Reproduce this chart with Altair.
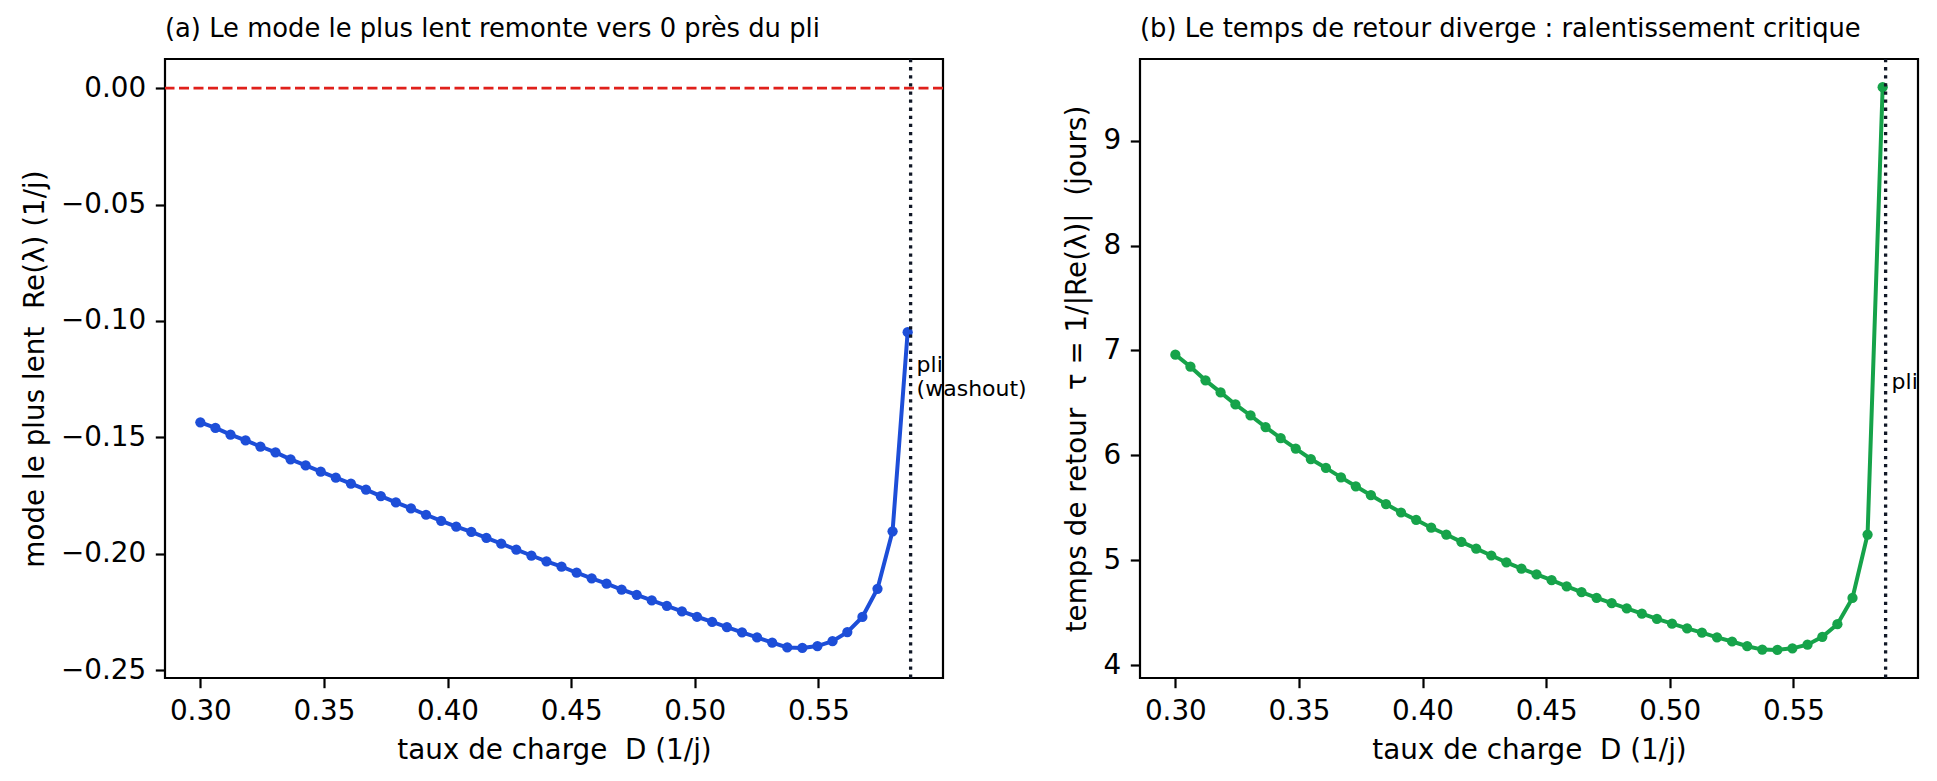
import altair as alt
import pandas as pd

# Taux de charge D (1/j), grille de continuation jusqu'au pli
D = [0.3000, 0.3061, 0.3122, 0.3183, 0.3243, 0.3304, 0.3365, 0.3426, 0.3487, 0.3548,
     0.3609, 0.3670, 0.3730, 0.3791, 0.3852, 0.3913, 0.3974, 0.4035, 0.4096, 0.4157,
     0.4217, 0.4278, 0.4339, 0.4400, 0.4461, 0.4522, 0.4583, 0.4643, 0.4704, 0.4765,
     0.4826, 0.4887, 0.4948, 0.5009, 0.5070, 0.5130, 0.5191, 0.5252, 0.5313, 0.5374,
     0.5435, 0.5496, 0.5557, 0.5617, 0.5678, 0.5739, 0.5800, 0.5861]

# Re(lambda) du mode le plus lent (1/j)
re_lambda = [-0.1435, -0.1459, -0.1488, -0.1513, -0.1539, -0.1564, -0.1594, -0.1620, -0.1647, -0.1673,
             -0.1698, -0.1724, -0.1752, -0.1779, -0.1805, -0.1832, -0.1858, -0.1883, -0.1906, -0.1931,
             -0.1956, -0.1982, -0.2007, -0.2032, -0.2055, -0.2081, -0.2105, -0.2128, -0.2153, -0.2176,
             -0.2200, -0.2223, -0.2247, -0.2270, -0.2292, -0.2315, -0.2337, -0.2359, -0.2381, -0.2402,
             -0.2404, -0.2396, -0.2375, -0.2336, -0.2271, -0.2150, -0.1903, -0.1048]

# temps de retour tau (jours)
tau = [6.960, 6.845, 6.715, 6.600, 6.485, 6.380, 6.270, 6.165, 6.065, 5.965,
       5.880, 5.790, 5.705, 5.620, 5.535, 5.455, 5.385, 5.310, 5.245, 5.175,
       5.110, 5.045, 4.980, 4.920, 4.865, 4.810, 4.750, 4.695, 4.640, 4.590,
       4.540, 4.490, 4.440, 4.395, 4.350, 4.310, 4.265, 4.225, 4.180, 4.148,
       4.145, 4.160, 4.195, 4.270, 4.390, 4.640, 5.245, 9.510]

D_PLI = 0.5873

x_ticks = [0.30, 0.35, 0.40, 0.45, 0.50, 0.55]
ya_ticks = [0.00, -0.05, -0.10, -0.15, -0.20, -0.25]
yb_ticks = [4, 5, 6, 7, 8, 9]

df = pd.DataFrame({"D": D, "re": re_lambda, "tau": tau})

BLUE = "#1d4ed8"
GREEN = "#16a34a"
W, H = 778, 619

x_scale = alt.Scale(domain=[0.2857, 0.6004], nice=False, zero=False)


def panel(ycol, color, y_scale, y_axis, y_title, note_y, note):
    line = alt.Chart(df).mark_line(color=color, strokeWidth=4).encode(
        x=alt.X(
            "D:Q",
            scale=x_scale,
            title="taux de charge \u00a0D (1/j)",
            axis=alt.Axis(values=x_ticks, format=".2f"),
        ),
        y=alt.Y(f"{ycol}:Q", scale=y_scale, title=y_title, axis=y_axis),
    )
    pts = alt.Chart(df).mark_circle(color=color, size=105, opacity=1).encode(
        x="D:Q", y=f"{ycol}:Q"
    )
    pli = alt.Chart(pd.DataFrame({"D": [D_PLI]})).mark_rule(
        color="#111827", strokeWidth=3.3, strokeDash=[3.3, 4.8]
    ).encode(x="D:Q")
    txt = alt.Chart(pd.DataFrame({"D": [D_PLI], "y": [note_y], "t": [note]})).mark_text(
        align="left", baseline="middle", dx=6, fontSize=22, lineBreak="\n",
        lineHeight=24, color="black",
    ).encode(x="D:Q", y="y:Q", text="t:N")
    return line, pts, pli, txt


ya_scale = alt.Scale(domain=[-0.2533, 0.0125], nice=False, zero=False)
yb_scale = alt.Scale(domain=[3.877, 9.779], nice=False, zero=False)

la, pa, ra, ta = panel(
    "re", BLUE, ya_scale,
    alt.Axis(values=ya_ticks, format=".2f"),
    "mode le plus lent \u00a0Re(λ) (1/j)", -0.1189, "pli\n(washout)",
)
zero = alt.Chart(pd.DataFrame({"y": [0.0]})).mark_rule(
    color="#e0201b", strokeWidth=2.6, strokeDash=[10, 4.5]
).encode(y="y:Q")

chart_a = alt.layer(zero, la, pa, ra, ta).properties(
    width=W, height=H,
    title="(a) Le mode le plus lent remonte vers 0 près du pli",
)

lb, pb, rb, tb = panel(
    "tau", GREEN, yb_scale,
    alt.Axis(values=yb_ticks, format="d"),
    "temps de retour \u00a0τ = 1/|Re(λ)| \u00a0(jours)", 6.70, "pli",
)
chart_b = alt.layer(lb, pb, rb, tb).properties(
    width=W, height=H,
    title="(b) Le temps de retour diverge : ralentissement critique",
)

chart = (
    alt.HConcatChart(hconcat=[chart_a, chart_b], spacing=197, bounds="flush")
    .properties(padding={"left": 12, "top": 6, "right": 0, "bottom": 0})
    .configure(font="DejaVu Sans")
    .configure_view(stroke="black", strokeWidth=2.2)
    .configure_axis(
        domain=False, grid=False,
        tickColor="black", tickSize=9.7, tickWidth=2.2,
        labelFontSize=27.8, labelColor="black", labelPadding=9.7,
        titleFontSize=27.8, titleFontWeight="normal", titleColor="black",
        titlePadding=11,
    )
    .configure_title(
        fontSize=25.8, fontWeight="normal", anchor="start", frame="group",
        offset=15, color="black",
    )
)

chart.save("out.html", embed_options={"renderer": "svg", "actions": False})
